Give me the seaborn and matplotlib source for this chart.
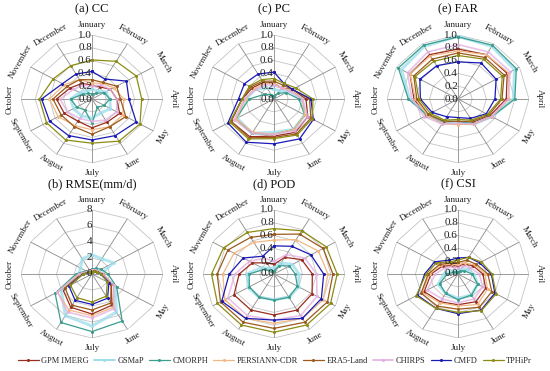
import numpy as np
import pandas as pd
import matplotlib
matplotlib.use("Agg")
import matplotlib.pyplot as plt
from matplotlib.lines import Line2D
import seaborn as sns

months = ["January", "February", "March", "April", "May", "June",
          "July", "August", "September", "October", "November", "December"]
products = ["GPM IMERG", "GSMaP", "CMORPH", "PERSIANN-CDR",
            "ERA5-Land", "CHIRPS", "CMFD", "TPHiPr"]
colors = ["#9B2D20", "#9EDDEB", "#3A9E8F", "#F0B884",
          "#9C5A1C", "#E2AEE0", "#1A1AB5", "#8C8C14"]
widths = [0.9, 2.2, 0.9, 0.9, 0.9, 1.2, 0.9, 0.9]

# rows follow the order of `products`, columns follow `months`
cc = [
    [0.22, 0.22, 0.30, 0.35, 0.45, 0.42, 0.45, 0.40, 0.45, 0.50, 0.35, 0.28],
    [0.15, 0.15, 0.22, 0.25, 0.30, 0.25, 0.30, 0.30, 0.30, 0.30, 0.20, 0.15],
    [0.08, 0.10, 0.20, 0.25, 0.20, 0.15, 0.38, 0.20, 0.25, 0.30, 0.15, 0.10],
    [0.25, 0.28, 0.35, 0.45, 0.50, 0.50, 0.48, 0.48, 0.55, 0.60, 0.45, 0.35],
    [0.30, 0.30, 0.40, 0.40, 0.55, 0.50, 0.55, 0.50, 0.50, 0.55, 0.40, 0.35],
    [0.20, 0.25, 0.30, 0.35, 0.40, 0.38, 0.35, 0.35, 0.40, 0.45, 0.30, 0.25],
    [0.43, 0.36, 0.56, 0.52, 0.72, 0.66, 0.64, 0.66, 0.69, 0.71, 0.48, 0.45],
    [0.61, 0.68, 0.72, 0.70, 0.78, 0.76, 0.69, 0.74, 0.74, 0.74, 0.63, 0.60],
]
rmse = [
    [0.4, 0.5, 0.7, 1.2, 2.5, 4.5, 5.0, 4.8, 3.8, 1.3, 0.5, 0.4],
    [2.4, 2.2, 2.8, 1.0, 3.0, 5.5, 6.5, 6.0, 4.0, 1.5, 1.5, 2.2],
    [0.6, 0.8, 1.2, 1.8, 3.2, 6.8, 7.2, 7.0, 4.8, 1.8, 0.8, 0.5],
    [0.5, 0.6, 0.8, 1.3, 2.8, 4.8, 5.2, 5.2, 4.5, 1.5, 0.6, 0.5],
    [0.4, 0.5, 0.7, 1.2, 2.5, 4.2, 4.5, 4.5, 3.5, 1.2, 0.5, 0.4],
    [0.5, 0.5, 0.8, 1.2, 2.8, 5.0, 5.5, 5.5, 4.5, 1.5, 0.6, 0.4],
    [0.3, 0.4, 0.6, 1.0, 2.2, 3.5, 3.8, 3.8, 3.0, 1.0, 0.4, 0.3],
    [0.3, 0.4, 0.6, 1.0, 2.0, 3.2, 3.5, 3.4, 2.8, 1.0, 0.4, 0.3],
]
pc = [
    [0.25, 0.20, 0.30, 0.45, 0.55, 0.60, 0.58, 0.68, 0.70, 0.45, 0.35, 0.30],
    [0.15, 0.15, 0.25, 0.40, 0.50, 0.55, 0.52, 0.62, 0.60, 0.40, 0.30, 0.20],
    [0.05, 0.10, 0.20, 0.35, 0.50, 0.55, 0.55, 0.62, 0.62, 0.35, 0.15, 0.08],
    [0.25, 0.20, 0.28, 0.40, 0.50, 0.55, 0.55, 0.60, 0.62, 0.40, 0.32, 0.28],
    [0.28, 0.25, 0.30, 0.50, 0.60, 0.63, 0.60, 0.70, 0.70, 0.45, 0.38, 0.32],
    [0.22, 0.20, 0.25, 0.40, 0.55, 0.58, 0.55, 0.62, 0.65, 0.42, 0.30, 0.25],
    [0.42, 0.28, 0.30, 0.52, 0.64, 0.72, 0.70, 0.78, 0.75, 0.50, 0.48, 0.45],
    [0.32, 0.28, 0.35, 0.55, 0.62, 0.65, 0.62, 0.72, 0.72, 0.45, 0.40, 0.35],
]
pod = [
    [0.15, 0.30, 0.45, 0.54, 0.62, 0.65, 0.64, 0.65, 0.65, 0.49, 0.35, 0.20],
    [0.10, 0.20, 0.30, 0.35, 0.40, 0.42, 0.40, 0.42, 0.42, 0.38, 0.20, 0.10],
    [0.05, 0.15, 0.25, 0.30, 0.38, 0.42, 0.41, 0.42, 0.40, 0.35, 0.15, 0.05],
    [0.53, 0.62, 0.72, 0.76, 0.80, 0.80, 0.77, 0.80, 0.80, 0.72, 0.65, 0.57],
    [0.62, 0.72, 0.80, 0.83, 0.87, 0.87, 0.85, 0.87, 0.87, 0.80, 0.75, 0.66],
    [0.20, 0.35, 0.50, 0.60, 0.70, 0.75, 0.72, 0.75, 0.75, 0.55, 0.40, 0.28],
    [0.44, 0.50, 0.60, 0.70, 0.77, 0.80, 0.72, 0.80, 0.85, 0.63, 0.50, 0.32],
    [0.71, 0.78, 0.85, 0.89, 0.92, 0.92, 0.91, 0.92, 0.92, 0.88, 0.82, 0.75],
]
far = [
    [0.78, 0.80, 0.80, 0.68, 0.52, 0.42, 0.35, 0.42, 0.52, 0.62, 0.78, 0.80],
    [0.98, 0.95, 0.92, 0.78, 0.55, 0.45, 0.38, 0.42, 0.50, 0.68, 0.92, 0.95],
    [0.97, 0.97, 0.95, 0.80, 0.55, 0.45, 0.35, 0.40, 0.50, 0.70, 0.97, 0.97],
    [0.75, 0.80, 0.82, 0.72, 0.55, 0.45, 0.40, 0.45, 0.50, 0.60, 0.78, 0.78],
    [0.72, 0.75, 0.75, 0.62, 0.50, 0.40, 0.35, 0.40, 0.48, 0.58, 0.72, 0.72],
    [0.85, 0.85, 0.85, 0.70, 0.55, 0.45, 0.38, 0.45, 0.55, 0.65, 0.82, 0.85],
    [0.58, 0.65, 0.62, 0.52, 0.46, 0.35, 0.29, 0.32, 0.42, 0.53, 0.62, 0.60],
    [0.68, 0.72, 0.72, 0.60, 0.48, 0.38, 0.32, 0.38, 0.45, 0.55, 0.70, 0.68],
]
csi = [
    [0.12, 0.18, 0.25, 0.35, 0.45, 0.50, 0.48, 0.50, 0.55, 0.38, 0.25, 0.15],
    [0.05, 0.08, 0.15, 0.22, 0.32, 0.38, 0.38, 0.35, 0.32, 0.20, 0.10, 0.05],
    [0.03, 0.05, 0.10, 0.20, 0.32, 0.38, 0.40, 0.35, 0.30, 0.15, 0.06, 0.03],
    [0.15, 0.20, 0.28, 0.38, 0.48, 0.55, 0.50, 0.52, 0.58, 0.40, 0.28, 0.18],
    [0.18, 0.25, 0.30, 0.42, 0.55, 0.60, 0.55, 0.58, 0.60, 0.42, 0.30, 0.20],
    [0.10, 0.15, 0.20, 0.30, 0.40, 0.45, 0.45, 0.45, 0.50, 0.32, 0.20, 0.12],
    [0.25, 0.30, 0.35, 0.47, 0.60, 0.65, 0.62, 0.62, 0.66, 0.47, 0.38, 0.25],
    [0.22, 0.30, 0.38, 0.48, 0.62, 0.66, 0.60, 0.62, 0.68, 0.45, 0.35, 0.22],
]

panels = [
    ("(a) CC", cc, [0, 0.2, 0.4, 0.6, 0.8, 1.0], "{:.1f}"),
    ("(c) PC", pc, [0, 0.2, 0.4, 0.6, 0.8, 1.0], "{:.1f}"),
    ("(e) FAR", far, [0, 0.2, 0.4, 0.6, 0.8, 1.0], "{:.1f}"),
    ("(b) RMSE(mm/d)", rmse, [0, 2, 4, 6, 8], "{:d}"),
    ("(d) POD", pod, [0, 0.2, 0.4, 0.6, 0.8, 1.0], "{:.1f}"),
    ("(f) CSI", csi, [0, 0.2, 0.4, 0.6, 0.8, 1.0], "{:.1f}"),
]

sns.set_theme(style="white")
plt.rcParams["font.family"] = ["Liberation Serif", "DejaVu Serif"]

theta = np.arange(12) * 2 * np.pi / 12
theta_closed = np.append(theta, 2 * np.pi)


def tangent_rot(deg):
    r = -deg % 360
    if r >= 270:
        return r - 360
    if r > 90:
        return r - 180
    return r


def to_frame(values):
    rows = []
    for name, vals in zip(products, values):
        for t, v in zip(theta_closed, list(vals) + [vals[0]]):
            rows.append({"theta": t, "value": v, "product": name})
    return pd.DataFrame(rows)


fig = plt.figure(figsize=(5.5, 3.71), dpi=100)

# centres in pixels and half sizes of the (slightly stretched) radar boxes
cx = [92, 274, 458]
cy = [99, 274]
hw, hh = 71, 64
W, H = 550, 371

for i, (title, values, ticks, fmt) in enumerate(panels):
    row, col = divmod(i, 3)
    x0, y0 = cx[col], cy[row]
    ax = fig.add_axes([(x0 - hw) / W, 1 - (y0 + hh) / H, 2 * hw / W, 2 * hh / H],
                      projection="polar")
    ax.set_theta_offset(np.pi / 2)
    ax.set_theta_direction(-1)
    rmax = ticks[-1]

    # polygon grid and spokes
    for r in ticks[1:]:
        ax.plot(theta_closed, [r] * 13, color="#c4c4c4", lw=0.6, zorder=1)
    for t in theta:
        ax.plot([t, t], [0, rmax], color="#8a8a8a", lw=0.6, zorder=1)

    df = to_frame(values)
    sns.lineplot(data=df, x="theta", y="value", hue="product",
                 hue_order=products, palette=colors, size="product",
                 size_order=products, sizes=dict(zip(products, widths)),
                 marker="o", markersize=2.2, markeredgewidth=0,
                 errorbar=None, legend=False, ax=ax, zorder=3)
    for line in ax.lines[-len(products):]:
        if line.get_color() in ("#9EDDEB", "#E2AEE0"):
            line.set_alpha(0.75)

    ax.set_ylim(0, rmax)
    ax.set_xticks([])
    ax.set_yticks([])
    ax.grid(False)
    ax.spines["polar"].set_visible(False)
    ax.set_xlabel("")
    ax.set_ylabel("")
    ax.set_aspect("auto")

    for r in ticks:
        ax.text(0, r, fmt.format(r), ha="right", va="center", fontsize=8,
                color="#222222", zorder=5)

    for t, m in zip(theta, months):
        ax.text(t, rmax * 1.16, m, rotation=tangent_rot(np.degrees(t)),
                rotation_mode="anchor", ha="center", va="center",
                fontsize=6.5, color="#222222")

    fig.text(x0 / W, 1 - (y0 - 90) / H, title, ha="center", va="center",
             fontsize=9, color="#111111")

handles = [Line2D([0], [0], color=c, lw=min(w, 1.4), marker="o", markersize=2.2,
                  markeredgewidth=0) for c, w in zip(colors, widths)]
fig.legend(handles, products, loc="center", bbox_to_anchor=(0.5, 0.026),
           ncol=8, frameon=False, fontsize=6, handlelength=2.5,
           handletextpad=0.3, columnspacing=0.6)

fig.savefig("out.png", dpi=100)
